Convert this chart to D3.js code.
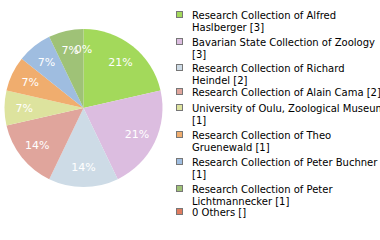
<meta charset="utf-8">
<head>
<script src="https://d3js.org/d3.v7.min.js"></script>
<style>
  body { margin: 0; background: #fff; }
</style>
</head>
<body>
<div id="container"></div>
<script>

var labels = [
  "Research Collection of Alfred\nHaslberger [3]",
  "Bavarian State Collection of Zoology\n[3]",
  "Research Collection of Richard\nHeindel [2]",
  "Research Collection of Alain Cama [2]",
  "University of Oulu, Zoological Museum\n[1]",
  "Research Collection of Theo\nGruenewald [1]",
  "Research Collection of Peter Buchner\n[1]",
  "Research Collection of Peter\nLichtmannecker [1]",
  "0 Others []"
];
var values = [3, 3, 2, 2, 1, 1, 1, 1, 0];
var colors = ["#a3d95b", "#dcbde0", "#cddbe6", "#e0a59c", "#dde39e",
              "#f0ad6e", "#9fbde0", "#9fc277", "#e07b5f"];

var width = 380, height = 240;
var cx = 83.5, cy = 108, r = 79;

var svg = d3.select('#container')
  .append('svg')
  .attr('width', width)
  .attr('height', height);

var total = d3.sum(values);
var pie = d3.pie().sort(null).value(function(d) { return d; });
var arcs = pie(values);
var arc = d3.arc().innerRadius(0).outerRadius(r);
var labelArc = d3.arc().innerRadius(r * 0.75).outerRadius(r * 0.75);

var g = svg.append('g').attr('transform', 'translate(' + cx + ',' + cy + ')');

g.selectAll('path')
  .data(arcs)
  .enter().append('path')
  .attr('d', arc)
  .attr('fill', function(d, i) { return colors[i]; });

g.selectAll('text')
  .data(arcs)
  .enter().append('text')
  .attr('transform', function(d) { return 'translate(' + labelArc.centroid(d) + ')'; })
  .attr('text-anchor', 'middle')
  .attr('dy', '0.35em')
  .attr('fill', '#fff')
  .style('font', '11px "DejaVu Sans"')
  .text(function(d) { return Math.round(d.value / total * 100) + '%'; });

// legend: slot of 13.35px per line, lines inside an entry 12px apart,
// one-line entries sit a bit higher in their slot (as in the original)
var slotH = 13.35, lineH = 12;
var ly = 11;
var legend = svg.append('g').style('font', '10px "DejaVu Sans"');
labels.forEach(function(lab, i) {
  var lines = lab.split('\n');
  var y = Math.round(ly + (lines.length == 1 ? -3.5 : 0));
  legend.append('rect')
    .attr('x', 176.5).attr('y', y + 0.5)
    .attr('width', 6).attr('height', 6)
    .attr('fill', colors[i])
    .attr('stroke', '#777');
  var t = legend.append('text').attr('fill', '#000');
  lines.forEach(function(s, j) {
    t.append('tspan').attr('x', 192).attr('y', y + 7.5 + j * lineH).text(s);
  });
  ly += lines.length * slotH;
});

</script>
</body>
